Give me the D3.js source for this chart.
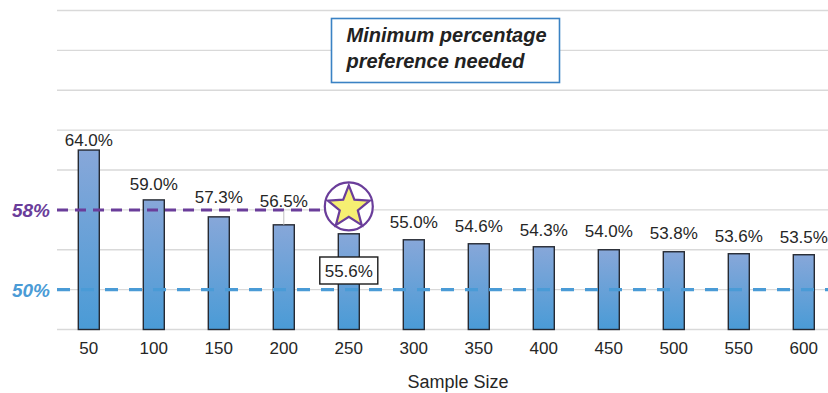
<!DOCTYPE html>
<html>
<head>
<meta charset="utf-8">
<script src="https://cdn.jsdelivr.net/npm/d3@7"></script>
<style>
  html, body { margin: 0; padding: 0; background: #fff; overflow: hidden; }
  svg { display: block; font-family: "Liberation Sans", Arial, sans-serif; }
</style>
</head>
<body>
<svg id="chart" width="828" height="393"></svg>
<script>
// Sample sizes and the minimum share of preference needed at each size
const sampleSizes = [50, 100, 150, 200, 250, 300, 350, 400, 450, 500, 550, 600];
const minPreference = [64.0, 59.0, 57.3, 56.5, 55.6, 55.0, 54.6, 54.3, 54.0, 53.8, 53.6, 53.5];
const yTicks = [46, 50, 54, 58, 62, 66, 70, 74, 78];
const targetLevel = 58;
const baseLevel = 50;
const highlightSize = 250;
const titleLines = ["Minimum percentage", "preference needed"];
const xTitle = "Sample Size";

// Layout: how far each value label sits above its bar top (px)
const labelLift = [4, 10, 14, 18, 0, 12, 12, 11, 13, 13, 12, 12];

const W = 828, H = 393;
const svg = d3.select("#chart");

const x = d3.scaleBand()
  .domain(sampleSizes)
  .range([56.3, 836.3])
  .paddingInner(0.677)
  .paddingOuter(0.677 / 2);

const y = d3.scaleLinear().domain([46, 78]).range([329.5, 10.5]);

const defs = svg.append("defs");
const grad = defs.append("linearGradient")
  .attr("id", "barFill").attr("x1", 0).attr("y1", 0).attr("x2", 0).attr("y2", 1);
grad.append("stop").attr("offset", "0%").attr("stop-color", "#87a7d9");
grad.append("stop").attr("offset", "100%").attr("stop-color", "#4a9bd6");

// Horizontal gridlines
svg.append("g")
  .selectAll("line")
  .data(yTicks)
  .join("line")
  .attr("x1", 57).attr("x2", W)
  .attr("y1", d => y(d)).attr("y2", d => y(d))
  .attr("stroke", "#d9d9d9")
  .attr("stroke-width", 1.4);

// Bars
const data = sampleSizes.map((s, i) => ({ s, v: minPreference[i], lift: labelLift[i] }));

svg.append("g")
  .selectAll("rect")
  .data(data)
  .join("rect")
  .attr("x", d => x(d.s))
  .attr("y", d => y(d.v))
  .attr("width", x.bandwidth())
  .attr("height", d => y(46) - y(d.v))
  .attr("fill", "url(#barFill)")
  .attr("stroke", "#262a33")
  .attr("stroke-width", 1.4);

// Reference lines
const cx = x(highlightSize) + x.bandwidth() / 2;
const starR = 24;

svg.append("line")
  .attr("x1", 57).attr("x2", W)
  .attr("y1", y(baseLevel)).attr("y2", y(baseLevel))
  .attr("stroke", "#4a9bd6").attr("stroke-width", 3.2)
  .attr("stroke-dasharray", "13 11");

svg.append("line")
  .attr("x1", 57).attr("x2", cx - starR)
  .attr("y1", y(targetLevel)).attr("y2", y(targetLevel))
  .attr("stroke", "#6a3d9a").attr("stroke-width", 3)
  .attr("stroke-dasharray", "11 7");

// Left-side level labels
svg.append("text")
  .attr("x", 50).attr("y", y(targetLevel) + 7)
  .attr("text-anchor", "end")
  .attr("font-size", 19).attr("font-weight", "bold").attr("font-style", "italic")
  .attr("fill", "#6a3d9a")
  .text(targetLevel + "%");

svg.append("text")
  .attr("x", 50).attr("y", y(baseLevel) + 7)
  .attr("text-anchor", "end")
  .attr("font-size", 19).attr("font-weight", "bold").attr("font-style", "italic")
  .attr("fill", "#4a9bd6")
  .text(baseLevel + "%");

// Value labels above bars
const fmt = v => v.toFixed(1) + "%";
const plain = data.filter(d => d.s !== highlightSize);

svg.append("g")
  .selectAll("line")
  .data(plain.filter(d => d.lift >= 16))
  .join("line")
  .attr("x1", d => x(d.s) + x.bandwidth() / 2)
  .attr("x2", d => x(d.s) + x.bandwidth() / 2)
  .attr("y1", d => y(d.v) - d.lift + 4)
  .attr("y2", d => y(d.v))
  .attr("stroke", "#bfbfbf").attr("stroke-width", 1);

svg.append("g")
  .selectAll("text")
  .data(plain)
  .join("text")
  .attr("x", d => x(d.s) + x.bandwidth() / 2)
  .attr("y", d => y(d.v) - d.lift)
  .attr("text-anchor", "middle")
  .attr("font-size", 17)
  .attr("fill", "#262626")
  .text(d => fmt(d.v));

// Highlighted value in a boxed label
const hv = minPreference[sampleSizes.indexOf(highlightSize)];
svg.append("rect")
  .attr("x", cx - 29).attr("y", 257)
  .attr("width", 58).attr("height", 27)
  .attr("fill", "#fff").attr("stroke", "#1a1a1a").attr("stroke-width", 1.4);
svg.append("text")
  .attr("x", cx).attr("y", 277)
  .attr("text-anchor", "middle")
  .attr("font-size", 17).attr("fill", "#262626")
  .text(fmt(hv));

// Star marker in a circle at the end of the target line
const circleY = y(targetLevel) - 3.5;
svg.append("circle")
  .attr("cx", cx).attr("cy", circleY).attr("r", starR)
  .attr("fill", "#fff").attr("stroke", "#6a3d9a").attr("stroke-width", 2.2);

const outerR = 22, innerR = 9.5;
const starPts = d3.range(10).map(i => {
  const r = i % 2 === 0 ? outerR : innerR;
  const a = -Math.PI / 2 + i * Math.PI / 5;
  return [cx + r * Math.cos(a), circleY + 1 + r * Math.sin(a)];
});
svg.append("polygon")
  .attr("points", starPts.map(p => p.join(",")).join(" "))
  .attr("fill", "#f5ef72").attr("stroke", "#6a3d9a").attr("stroke-width", 2.2)
  .attr("stroke-linejoin", "miter");

// X axis tick labels and title
svg.append("g")
  .selectAll("text")
  .data(sampleSizes)
  .join("text")
  .attr("x", d => x(d) + x.bandwidth() / 2)
  .attr("y", 354)
  .attr("text-anchor", "middle")
  .attr("font-size", 17).attr("fill", "#262626")
  .text(d => d);

svg.append("text")
  .attr("x", 458).attr("y", 388)
  .attr("text-anchor", "middle")
  .attr("font-size", 18).attr("fill", "#262626")
  .text(xTitle);

// Title box
svg.append("rect")
  .attr("x", 331.5).attr("y", 18.5)
  .attr("width", 228).attr("height", 64)
  .attr("fill", "#fff").attr("stroke", "#3a82c4").attr("stroke-width", 1.6);

svg.append("g")
  .selectAll("text")
  .data(titleLines)
  .join("text")
  .attr("x", 346.5)
  .attr("y", (d, i) => 41.7 + i * 26.5)
  .attr("font-size", 20).attr("font-weight", "bold").attr("font-style", "italic")
  .attr("fill", "#222")
  .text(d => d);
</script>
</body>
</html>
